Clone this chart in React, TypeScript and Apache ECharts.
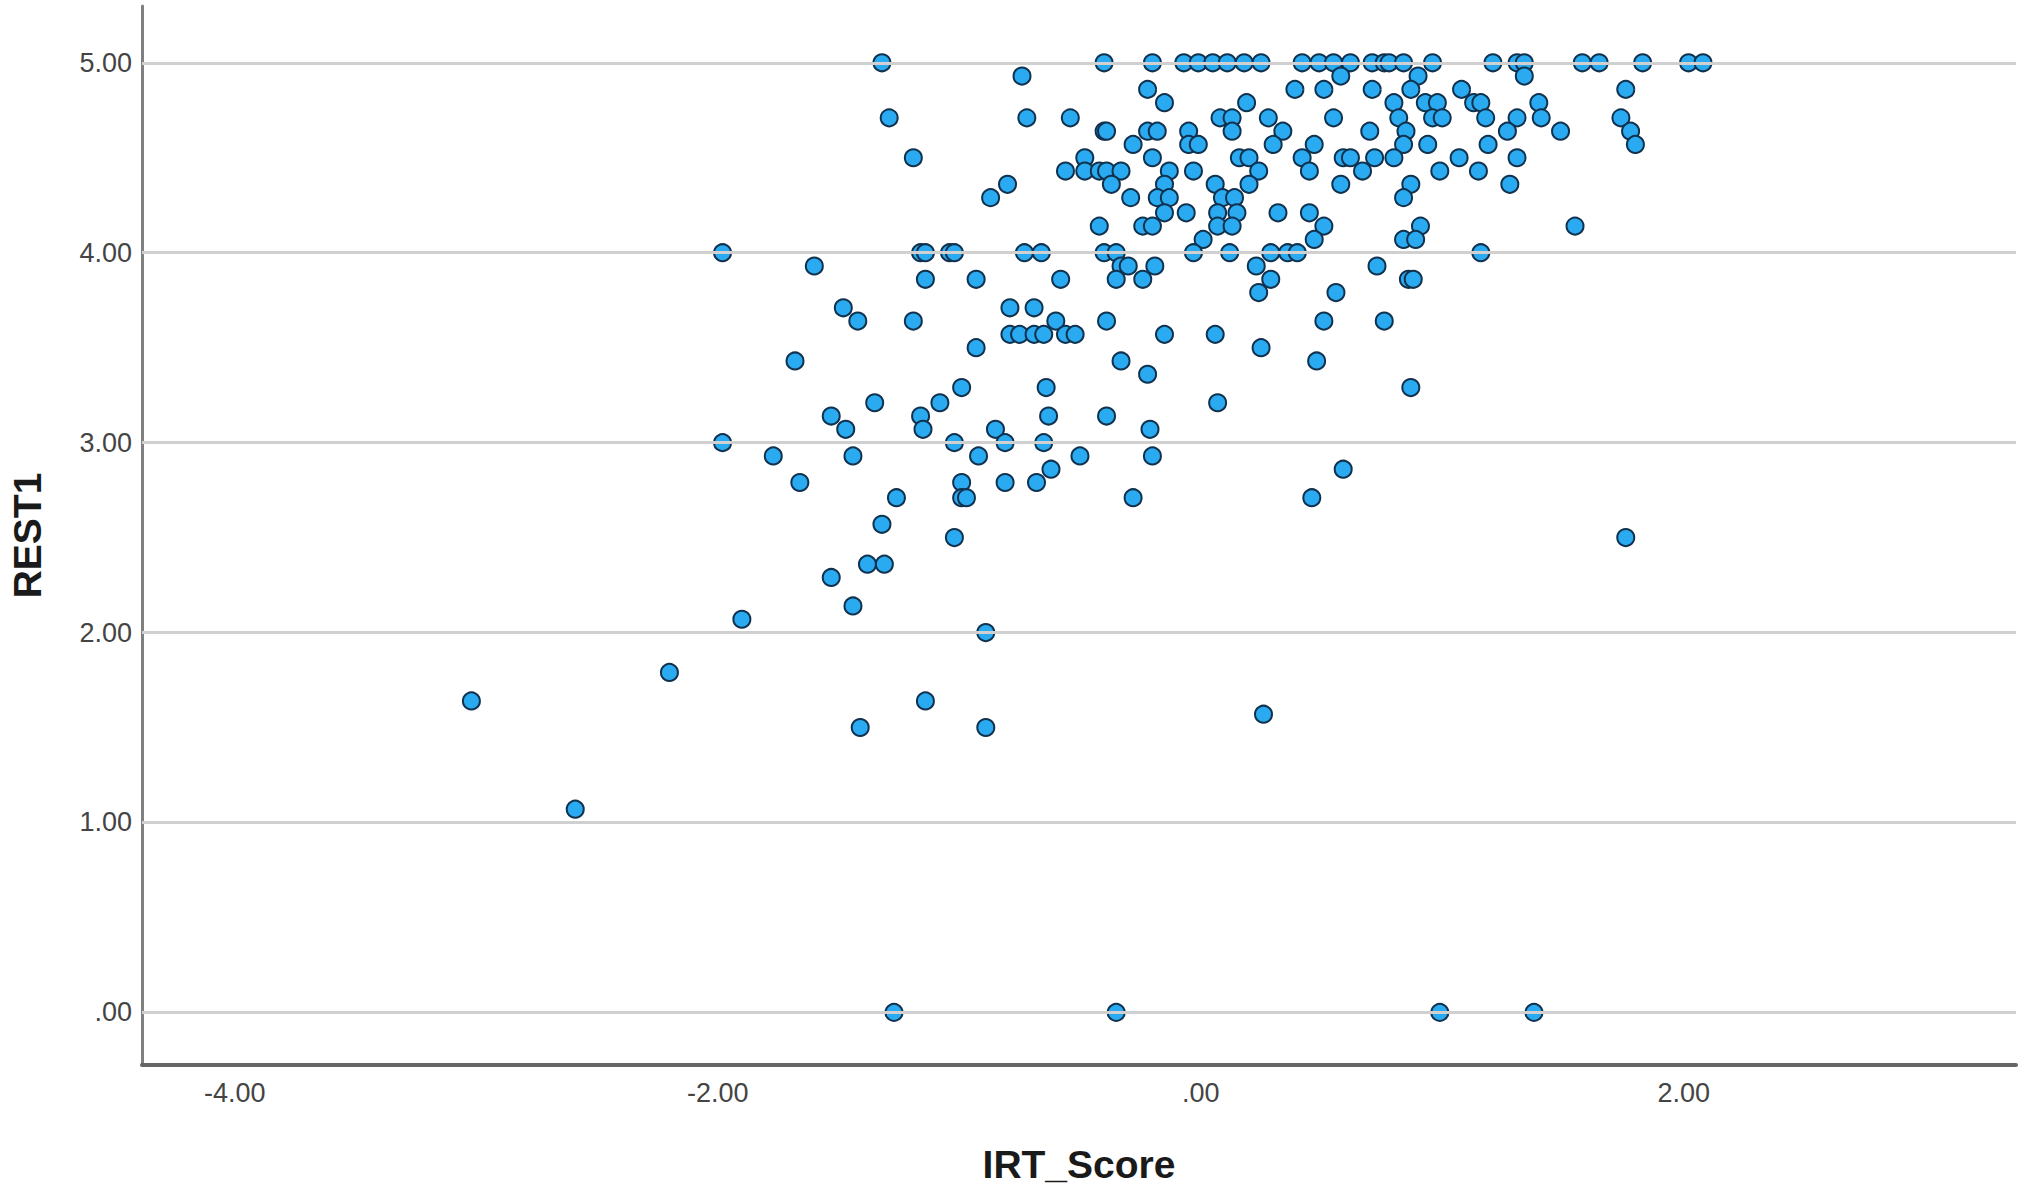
import React, { useEffect, useRef } from "react";
import * as echarts from "echarts";

// IRT_Score (x) and REST1 (y), in parallel arrays
const irtScore: number[] = [
  // left / low group
  -1.32, -0.74, -1.29, -0.72, -1.19, -0.80, -0.87, -1.98, -1.60, -1.16,
  -1.14, -1.04, -1.02, -0.73, -0.66, -1.14, -0.93, -1.48, -1.42, -1.19,
  -0.79, -0.69, -0.79, -0.75, -0.69, -0.65, -0.93, -1.68, -0.99, -0.64,
  -1.35, -1.08, -1.53, -1.16, -0.63,
  -1.15, -1.47, -0.85, -1.98, -0.81, -1.02, -0.65, -1.77, -1.44, -0.92,
  -0.62, -1.66, -0.99, -0.81, -0.68, -0.99, -0.97, -1.26, -1.32, -1.02,
  -1.38, -1.31, -1.53, -1.44, -1.90, -0.89, -1.14, -1.41, -0.89,
  // middle group: 5.00 row
  -0.40, -0.20, -0.07, -0.01, 0.05, 0.11, 0.18, 0.25, 0.42, 0.49, 0.55, 0.62, 0.71, 0.76,
  // 4.93 .. 4.79
  0.58, -0.22, 0.39, 0.51, 0.71, -0.15, 0.19,
  // 4.71
  -0.54, 0.08, 0.13, 0.28, 0.55,
  // 4.64
  0.13, 0.34, 0.70, -0.40, -0.39, -0.22, -0.18, -0.05,
  // 4.57
  -0.28, -0.05, -0.01, 0.30, 0.47,
  // 4.50
  0.16, 0.20, -0.48, -0.20, 0.42, 0.59, 0.62, 0.72,
  // 4.43
  -0.56, -0.48, -0.42, -0.39, -0.33, -0.13, -0.03, 0.24, 0.45, 0.67,
  // 4.36
  -0.37, -0.15, 0.06, 0.20, 0.58,
  // 4.29
  -0.29, -0.18, -0.13, 0.09, 0.14,
  // 4.21
  -0.15, -0.06, 0.07, 0.15, 0.32, 0.45,
  // 4.14
  -0.42, -0.24, -0.20, 0.07, 0.13, 0.51,
  // 4.07
  0.01, 0.47,
  // 4.00
  -0.40, -0.35, -0.03, 0.12, 0.29, 0.36, 0.40,
  // 3.93
  -0.33, -0.30, -0.19, 0.23, 0.73,
  // 3.86
  -0.58, -0.35, -0.24, 0.29,
  // 3.79
  0.24, 0.56,
  // 3.64
  -0.60, -0.39, 0.51, 0.76,
  // 3.57
  -0.56, -0.52, -0.15, 0.06,
  // 3.50 .. 3.14
  0.25, -0.33, 0.48, -0.22, 0.07, -0.39,
  // below 3.10, middle
  -0.21, -0.50, -0.20, 0.59, -0.28, 0.46, 0.26,
  // right group: 5.00 row
  0.78, 0.84, 0.96, 1.21, 1.31, 1.34, 1.58, 1.65, 1.83, 2.02, 2.08,
  // 4.93, 4.86
  1.34, 0.90, 0.87, 1.08, 1.76,
  // 4.79
  0.80, 0.93, 0.98, 1.13, 1.16, 1.40,
  // 4.71
  0.82, 0.96, 1.00, 1.18, 1.31, 1.41, 1.74,
  // 4.64
  0.85, 1.27, 1.49, 1.78,
  // 4.57
  0.84, 0.94, 1.19, 1.80,
  // 4.50
  0.80, 1.07, 1.31,
  // 4.43 .. 3.29
  0.99, 1.15, 0.87, 1.28, 0.84, 0.91, 1.55, 0.84, 0.89, 1.16, 0.86, 0.88, 0.87,
  // outliers
  -3.02, -2.20, -2.59, 1.76, -1.27, -0.35, 0.99, 1.38,
];

const rest1: number[] = [
  5.00, 4.93, 4.71, 4.71, 4.50, 4.36, 4.29, 4.00, 3.93, 4.00,
  4.00, 4.00, 4.00, 4.00, 4.00, 3.86, 3.86, 3.71, 3.64, 3.64,
  3.71, 3.71, 3.57, 3.57, 3.57, 3.57, 3.50, 3.43, 3.29, 3.29,
  3.21, 3.21, 3.14, 3.14, 3.14,
  3.07, 3.07, 3.07, 3.00, 3.00, 3.00, 3.00, 2.93, 2.93, 2.93,
  2.86, 2.79, 2.79, 2.79, 2.79, 2.71, 2.71, 2.71, 2.57, 2.50,
  2.36, 2.36, 2.29, 2.14, 2.07, 2.00, 1.64, 1.50, 1.50,
  5.00, 5.00, 5.00, 5.00, 5.00, 5.00, 5.00, 5.00, 5.00, 5.00, 5.00, 5.00, 5.00, 5.00,
  4.93, 4.86, 4.86, 4.86, 4.86, 4.79, 4.79,
  4.71, 4.71, 4.71, 4.71, 4.71,
  4.64, 4.64, 4.64, 4.64, 4.64, 4.64, 4.64, 4.64,
  4.57, 4.57, 4.57, 4.57, 4.57,
  4.50, 4.50, 4.50, 4.50, 4.50, 4.50, 4.50, 4.50,
  4.43, 4.43, 4.43, 4.43, 4.43, 4.43, 4.43, 4.43, 4.43, 4.43,
  4.36, 4.36, 4.36, 4.36, 4.36,
  4.29, 4.29, 4.29, 4.29, 4.29,
  4.21, 4.21, 4.21, 4.21, 4.21, 4.21,
  4.14, 4.14, 4.14, 4.14, 4.14, 4.14,
  4.07, 4.07,
  4.00, 4.00, 4.00, 4.00, 4.00, 4.00, 4.00,
  3.93, 3.93, 3.93, 3.93, 3.93,
  3.86, 3.86, 3.86, 3.86,
  3.79, 3.79,
  3.64, 3.64, 3.64, 3.64,
  3.57, 3.57, 3.57, 3.57,
  3.50, 3.43, 3.43, 3.36, 3.21, 3.14,
  3.07, 2.93, 2.93, 2.86, 2.71, 2.71, 1.57,
  5.00, 5.00, 5.00, 5.00, 5.00, 5.00, 5.00, 5.00, 5.00, 5.00, 5.00,
  4.93, 4.93, 4.86, 4.86, 4.86,
  4.79, 4.79, 4.79, 4.79, 4.79, 4.79,
  4.71, 4.71, 4.71, 4.71, 4.71, 4.71, 4.71,
  4.64, 4.64, 4.64, 4.64,
  4.57, 4.57, 4.57, 4.57,
  4.50, 4.50, 4.50,
  4.43, 4.43, 4.36, 4.36, 4.29, 4.14, 4.14, 4.07, 4.07, 4.00, 3.86, 3.86, 3.29,
  1.64, 1.79, 1.07, 2.50, 0.00, 0.00, 0.00, 0.00,
];

const yTickValues: number[] = [0, 1, 2, 3, 4, 5];
const xTickValues: number[] = [-4, -2, 0, 2];
const xAxisTitle = "IRT_Score";
const yAxisTitle = "REST1";

const FONT = "'Liberation Sans', Arial, Helvetica, sans-serif";

function spssFormat(v: number): string {
  const s = Number(v).toFixed(2);
  return s.replace(/^(-?)0\./, "$1.");
}

export default function App() {
  const ref = useRef<HTMLDivElement>(null);

  useEffect(() => {
    if (!ref.current) return;
    const chart = echarts.init(ref.current, null, { renderer: "svg" });
    const points = irtScore.map((x, i) => [x, rest1[i]]);
    chart.setOption({
      animation: false,
      backgroundColor: "#ffffff",
      grid: { left: 138, top: 6, right: 8, bottom: 123, containLabel: false },
      xAxis: {
        type: "value",
        min: -4.384,
        max: 3.376,
        name: xAxisTitle,
        nameLocation: "middle",
        nameGap: 80,
        nameTextStyle: { fontFamily: FONT, fontSize: 39, fontWeight: "bold", color: "#1a1a1a" },
        axisLine: { show: true, onZero: false, lineStyle: { color: "#666666", width: 4 } },
        axisTick: { show: false },
        splitLine: { show: false },
        axisLabel: {
          customValues: xTickValues,
          formatter: spssFormat,
          margin: 14,
          fontSize: 27,
          fontFamily: FONT,
          color: "#444444",
        },
      },
      yAxis: {
        type: "value",
        min: -0.277,
        max: 5.299,
        name: yAxisTitle,
        nameLocation: "middle",
        nameGap: 95,
        nameRotate: 90,
        nameTextStyle: { fontFamily: FONT, fontSize: 39, fontWeight: "bold", color: "#1a1a1a" },
        axisLine: { show: true, onZero: false, lineStyle: { color: "#808080", width: 3 } },
        axisTick: { show: false },
        splitLine: { show: false },
        axisLabel: {
          customValues: yTickValues,
          formatter: spssFormat,
          margin: 10,
          fontSize: 27,
          fontFamily: FONT,
          color: "#444444",
        },
      },
      series: [
        {
          type: "scatter",
          data: [],
          silent: true,
          z: 1,
          markLine: {
            silent: true,
            symbol: ["none", "none"],
            label: { show: false },
            lineStyle: { color: "#d0d0d0", width: 3, type: "solid" },
            emphasis: { disabled: true },
            data: yTickValues.map((v) => ({ yAxis: v })),
          },
        },
        {
          type: "scatter",
          data: points,
          symbol: "circle",
          symbolSize: 17,
          z: 3,
          itemStyle: { color: "#2aaaf0", borderColor: "#10324e", borderWidth: 2, opacity: 1 },
          emphasis: { disabled: true },
        },
      ],
    });
    return () => chart.dispose();
  }, []);

  return (
    <div
      ref={ref}
      style={{ position: "absolute", left: 0, top: 0, width: 2024, height: 1189, background: "#fff" }}
    />
  );
}
